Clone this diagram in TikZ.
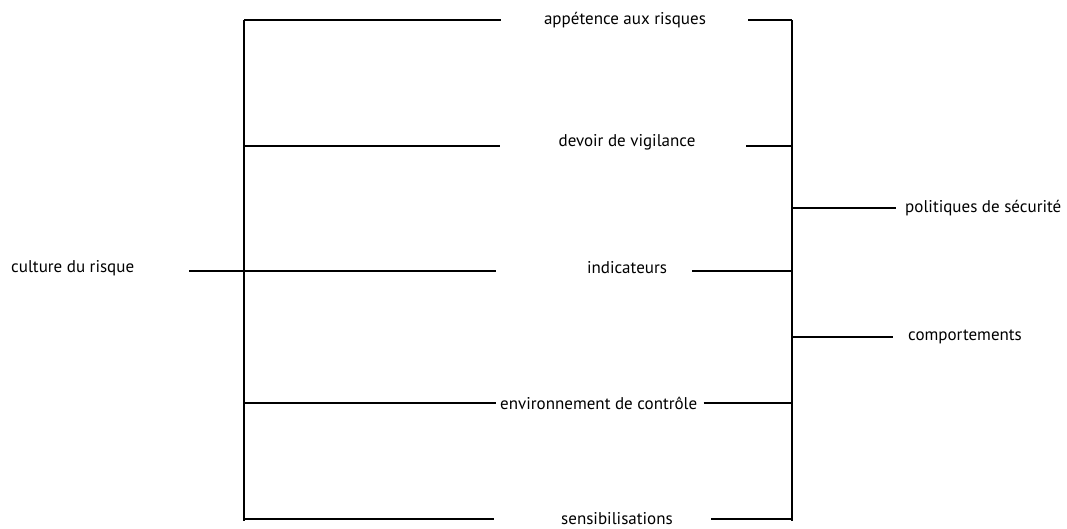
\documentclass[tikz,border=0pt]{standalone}
\usepackage{fontspec}
\setmainfont{PT Sans}
\usepackage{tikz}
\usetikzlibrary{positioning,calc}

\tikzset{
  branch/.style={line width=2.8pt, line cap=butt},
  leaf/.style={inner sep=0pt, font=\fontsize{17}{19}\selectfont},
}

\begin{document}
\begin{tikzpicture}[x=1pt, y=-1pt]
    \useasboundingbox (0,0) rectangle (1067,528);
    % trunk and labels
    \node[leaf, anchor=west] (culture) at (11,268) {culture du risque};
    \node[leaf] (appetence) at (625,20) {appétence aux risques};
    \node[leaf] (vigilance) at (627,142) {devoir de vigilance};
    \node[leaf] (indicateurs) at (627,268) {indicateurs};
    \node[leaf, anchor=west] (controle) at (500,403) {environnement de contrôle};
    \node[leaf, anchor=base] (sensib) at (617,524) {sensibilisations};
    \node[leaf, anchor=west] (politiques) at (905,208) {politiques de sécurité};
    \node[leaf, anchor=west] (comport) at (908,337) {comportements};

    % left bracket
    \coordinate (lt) at (244,20);
    \coordinate (lb) at (244,521);
    \draw[branch] (lt) -- (lb);
    \draw[branch] (189,271) coordinate (cult-end) -- (496,271) coordinate (ind-left);
    \draw[branch] (lt) -- (501,20) coordinate (app-left);
    \draw[branch] (244,146) -- (500,146) coordinate (vig-left);
    \draw[branch] (244,403) -- ([xshift=-4pt]controle.west);
    \draw[branch] (244,519) -- (494,519) coordinate (sen-left);

    % right bracket
    \coordinate (rt) at (792,20);
    \coordinate (rb) at (792,521);
    \draw[branch] (rt) -- (rb);
    \draw[branch] (748,20) coordinate (app-right) -- (rt);
    \draw[branch] (746,146) coordinate (vig-right) -- (792,146);
    \draw[branch] (692,271) coordinate (ind-right) -- (792,271);
    \draw[branch] ([xshift=6pt]controle.east) -- (792,403);
    \draw[branch] (711,519) coordinate (sen-right) -- (792,519);
    \draw[branch] (792,208) -- ([xshift=-9pt]politiques.west);
    \draw[branch] (792,337) -- ([xshift=-15pt]comport.west);
  \end{tikzpicture}
\end{document}
